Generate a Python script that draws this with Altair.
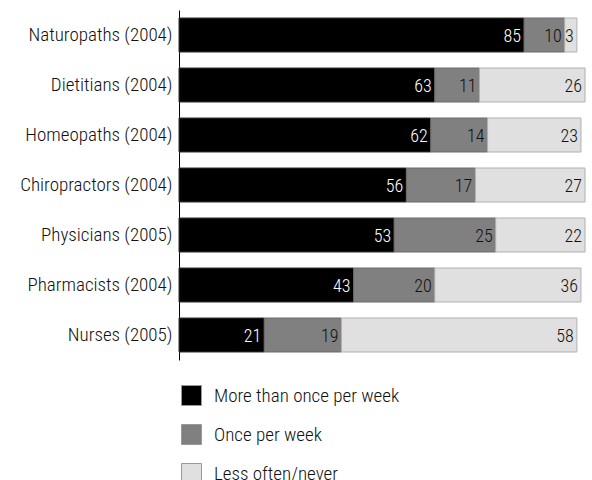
import altair as alt
import pandas as pd

categories = ["Naturopaths (2004)", "Dietitians (2004)", "Homeopaths (2004)",
              "Chiropractors (2004)", "Physicians (2005)", "Pharmacists (2004)",
              "Nurses (2005)"]
series = ["More than once per week", "Once per week", "Less often/never"]
more = [85, 63, 62, 56, 53, 43, 21]
once = [10, 11, 14, 17, 25, 20, 19]
less = [3, 26, 23, 27, 22, 36, 58]

rows = []
for i, c in enumerate(categories):
    for k, (s, v) in enumerate(zip(series, [more[i], once[i], less[i]])):
        rows.append({"cat": c, "series": s, "value": v, "ord": k})
df = pd.DataFrame(rows)

FONT = "Roboto Condensed, DejaVu Sans Condensed, sans-serif"

base = alt.Chart(df).transform_stack(
    stack="value", groupby=["cat"], sort=[alt.SortField("ord")], as_=["x0", "x1"]
)

y = alt.Y("cat:N", sort=categories, title=None,
          scale=alt.Scale(paddingInner=0.32, paddingOuter=0.16),
          axis=alt.Axis(ticks=False, domainColor="#000", domainWidth=1,
                        labelFont=FONT, labelFontSize=19, labelFontWeight=300,
                        labelColor="#111", labelPadding=7, labelLimit=0))

bars = base.mark_bar(strokeWidth=1).encode(
    x=alt.X("x0:Q", scale=alt.Scale(domain=[0, 100], nice=False), axis=None),
    x2="x1:Q",
    y=y,
    color=alt.Color("series:N", sort=series,
                    scale=alt.Scale(domain=series, range=["#000000", "#808080", "#e0e0e0"]),
                    legend=alt.Legend(title=None, orient="none", legendX=2, legendY=375,
                                      direction="vertical", symbolType="square",
                                      symbolSize=400, symbolStrokeWidth=1,
                                      symbolStrokeColor="#999", rowPadding=14,
                                      labelFont=FONT, labelFontSize=19, labelFontWeight=300,
                                      labelColor="#111", labelOffset=12, labelLimit=0)),
    stroke=alt.Stroke("series:N", sort=series,
                      scale=alt.Scale(domain=series, range=["#333333", "#6a6a6a", "#b0b0b0"]),
                      legend=None),
)

labels = base.mark_text(align="right", baseline="middle", dx=-3, dy=2,
                        font=FONT, fontSize=18, fontWeight=300).encode(
    x=alt.X("x1:Q"),
    y=alt.Y("cat:N", sort=categories),
    text="value:Q",
    color=alt.Color("series:N", sort=series,
                    scale=alt.Scale(domain=series, range=["#ffffff", "#111111", "#111111"]),
                    legend=None),
)

chart = alt.layer(bars, labels).resolve_scale(color="independent").properties(
    width=406, height=350,
    padding={"left": 179, "top": 10, "right": 7, "bottom": 120},
    autosize=alt.AutoSizeParams(type="none"),
).configure_view(stroke=None)

chart.save("out.html", embed_options={"renderer": "svg", "actions": False})
